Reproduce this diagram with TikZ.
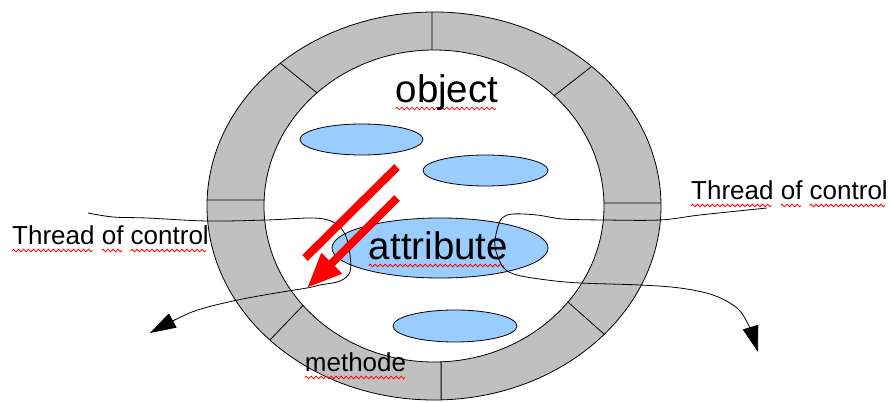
\documentclass[tikz,border=0pt]{standalone}
\usepackage{fontspec}
\setmainfont{Liberation Sans}
\usepackage{tikz}
\usetikzlibrary{shapes.geometric, arrows.meta, calc}

\definecolor{ringgray}{HTML}{C0C0C0}
\definecolor{memberblue}{HTML}{99CCFF}

% red wavy underline (spell check marks)
\newsavebox{\wavebox}
\newsavebox{\spellbox}
\sbox{\wavebox}{\tikz[baseline=0pt]{\useasboundingbox (0pt,0pt) rectangle (5pt,-7pt);
    \draw[red, line width=0.8pt] (0pt,-5.5pt) sin (1.25pt,-4.2pt) cos (2.5pt,-5.5pt) sin (3.75pt,-6.8pt) cos (5pt,-5.5pt);}}
\newcommand{\spell}[1]{\sbox{\spellbox}{#1}\rlap{\leaders\copy\wavebox\hskip\wd\spellbox}\usebox{\spellbox}}

\begin{document}
\begin{tikzpicture}[
    x=1pt, y=-1pt,
    every node/.style={inner sep=0pt},
    member/.style={ellipse, draw, line width=0.8pt, fill=memberblue, inner sep=0pt},
    bigtext/.style={font=\fontsize{38.5}{42}\selectfont, anchor=base},
    smalltext/.style={font=\fontsize{26}{30}\selectfont, anchor=base},
    thread/.style={line width=0.8pt, -{Triangle[length=26pt, width=16pt]}},
    bolt/.style={red, line width=8pt}
]
    \fill[white] (0,0) rectangle (892,403);
    \useasboundingbox (0,0) rectangle (892,403);
    \coordinate (c) at (434,206);

    % outer wall of the object, cut in eight methods
    \draw[line width=0.8pt, fill=ringgray, even odd rule]
        (c) ellipse [x radius=227, y radius=194]
        (c) ellipse [x radius=170, y radius=156];
    \foreach \a/\b in {90.5/90.7, 46/45, 0.9/1.1, -41.4/-38, -88.2/-87.6, -136.3/-140.4, 178.2/177.8, 132.6/133.5}
        \draw[line width=0.8pt] ($(c)+(-\a:227 and 194)$) -- ($(c)+(-\b:170 and 156)$);

    % attributes
    \node[member, minimum width=123pt, minimum height=31pt] (m1) at (361.5,139.5) {};
    \node[member, minimum width=125pt, minimum height=31pt] (m2) at (485.5,170.5) {};
    \node[member, minimum width=216pt, minimum height=60pt] (attr) at (440,248) {};
    \node[member, minimum width=124pt, minimum height=32pt] (m4) at (455,326) {};

    \node[bigtext] (obj) at (447,103) {\spell{object}};
    \node[bigtext] (attrtxt) at (438.5,260) {\spell{attribute}};
    \node[smalltext] (meth) at (355.5,372) {\spell{methode}};
    \node[smalltext, anchor=base west] (tcl) at (12,245) {\spell{Thread} \spell{of} \spell{control}};
    \node[smalltext, anchor=base west] (tcr) at (691,200) {\spell{Thread} \spell{of} \spell{control}};

    % threads of control
    \coordinate (t1s) at (88,213);
    \coordinate (t1e) at (150,333);
    \coordinate (t2s) at (767,208);
    \coordinate (t2e) at (758,352);
    \draw[thread] plot[smooth, tension=0.55] coordinates {(t1s) (113,217) (147,218) (207,221) (267,220) (313,218) (333,222) (345,234) (350,255) (350,272) (340,281) (320,285) (307,288) (270,294) (233,301) (192,312) (t1e)};
    \draw[thread] plot[smooth, tension=0.55] coordinates {(t2s) (700,215) (660,220) (605,220) (563,219) (537,215) (513,214) (502,218) (497,230) (495,247) (503,267) (517,275) (547,280) (580,283) (640,285) (680,288) (713,295) (737,308) (749,326) (t2e)};

    % the red bolt
    \coordinate (b1s) at (397,167);
    \coordinate (b1e) at (305,258);
    \coordinate (b2s) at (397,198);
    \coordinate (b2e) at (307,288);
    \draw[bolt] (b1s) -- (b1e);
    \draw[bolt, -{Triangle[length=35pt, width=27pt]}] (b2s) -- (b2e);
\end{tikzpicture}
\end{document}
